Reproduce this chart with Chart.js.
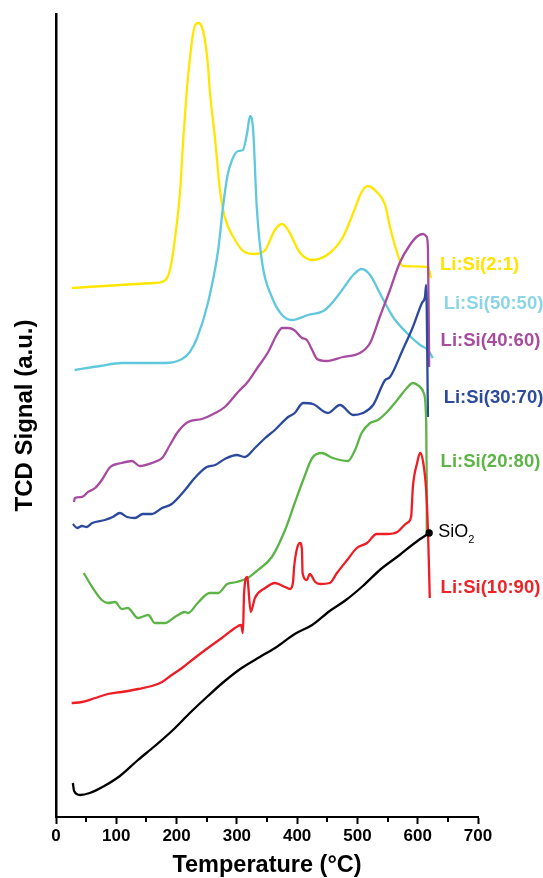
<!DOCTYPE html>
<html>
<head>
<meta charset="utf-8">
<script src="https://cdn.jsdelivr.net/npm/chart.js@4.4.0/dist/chart.umd.min.js"></script>
<style>
  html, body { margin: 0; padding: 0; background: #fff; }
  canvas { display: block; }
</style>
</head>
<body>
<canvas id="tpr" width="543" height="878"></canvas>
<script>
// Temperatura (°C) y señal TCD (u.a.)
const tempSiO2 = [28, 30, 40, 56, 80, 106, 136, 164, 194, 222, 252, 280, 308, 338, 366, 396, 425, 454, 481, 509, 539, 570, 595, 619];
const sigSiO2  = [34, 26, 22, 24, 31, 41, 57, 71, 87, 104, 121, 136, 149, 160, 170, 183, 192, 206, 217, 231, 248, 262, 274, 284];

const temp1090 = [26, 43, 65, 86, 109, 136, 159, 176, 192, 209, 230, 252, 275, 297, 307, 310, 312, 317, 318, 323, 330, 347, 363, 380, 388, 393, 395, 400, 405, 408, 409, 416, 421, 430, 438, 454, 466, 483, 499, 516, 532, 549, 566, 582, 589, 592, 599, 604, 609, 614, 617, 620];
const sig1090  = [114, 115, 119, 123, 125, 128, 131, 135, 142, 149, 159, 169, 179, 189, 192, 184, 224, 240, 237, 205, 219, 229, 234, 230, 228, 234, 250, 269, 274, 267, 244, 237, 243, 235, 233, 234, 244, 257, 269, 274, 283, 283, 285, 294, 300, 330, 354, 364, 355, 327, 287, 219];

const temp2080 = [46, 60, 76, 86, 98, 109, 119, 136, 153, 164, 181, 197, 214, 219, 235, 255, 269, 284, 300, 318, 335, 358, 380, 396, 410, 425, 441, 459, 484, 496, 507, 521, 534, 549, 566, 582, 592, 604, 610, 614, 615, 615];
const sig2080  = [244, 230, 217, 214, 215, 208, 209, 199, 202, 194, 194, 200, 205, 204, 214, 224, 224, 233, 235, 239, 247, 260, 287, 314, 337, 359, 364, 359, 356, 367, 384, 394, 397, 405, 417, 429, 434, 430, 424, 397, 337, 282];

const temp3070 = [28, 35, 43, 51, 60, 81, 94, 106, 118, 131, 144, 159, 176, 192, 214, 230, 250, 264, 280, 300, 313, 330, 347, 363, 385, 396, 410, 426, 451, 471, 493, 509, 526, 546, 554, 575, 592, 607, 612, 614, 617];
const sig3070  = [293, 289, 291, 290, 294, 297, 300, 304, 300, 299, 303, 303, 309, 313, 327, 339, 350, 352, 358, 362, 360, 369, 379, 387, 400, 404, 414, 413, 404, 412, 402, 404, 412, 437, 440, 467, 490, 514, 520, 532, 400];

const temp4060 = [30, 31, 43, 53, 65, 76, 90, 109, 126, 139, 159, 176, 189, 202, 219, 242, 264, 280, 302, 318, 335, 352, 366, 375, 385, 395, 408, 416, 425, 433, 449, 476, 504, 521, 537, 554, 570, 587, 600, 609, 615, 617, 619];
const sig4060  = [315, 319, 320, 325, 329, 337, 350, 354, 356, 351, 354, 359, 372, 385, 395, 398, 404, 410, 425, 435, 450, 465, 482, 489, 489, 487, 479, 477, 467, 458, 456, 460, 464, 474, 500, 527, 554, 572, 581, 583, 580, 567, 450];

const temp5050 = [31, 73, 109, 181, 209, 222, 234, 252, 269, 277, 284, 292, 302, 310, 317, 322, 327, 333, 342, 358, 375, 391, 418, 446, 471, 493, 507, 521, 537, 559, 582, 604, 617, 625];
const sig5050  = [447, 451, 454, 454, 458, 465, 479, 514, 567, 610, 640, 657, 666, 667, 684, 701, 687, 610, 554, 520, 502, 497, 502, 507, 524, 542, 548, 542, 524, 500, 484, 472, 467, 459];

const temp21 = [26, 164, 176, 189, 197, 206, 211, 217, 221, 227, 232, 237, 242, 247, 252, 255, 264, 272, 280, 297, 313, 330, 347, 363, 375, 385, 405, 426, 454, 476, 493, 507, 517, 532, 546, 554, 566, 575, 617, 622];
const sig21  = [529, 534, 535, 547, 577, 627, 677, 727, 752, 782, 793, 794, 790, 777, 752, 727, 677, 627, 600, 577, 565, 563, 567, 587, 593, 587, 564, 557, 564, 580, 604, 625, 631, 625, 612, 590, 564, 551, 550, 539];

// Nombres, colores y posición de las etiquetas (orden de dibujo)
const seriesNames = ['SiO2', 'Li:Si(10:90)', 'Li:Si(20:80)', 'Li:Si(30:70)', 'Li:Si(40:60)', 'Li:Si(50:50)', 'Li:Si(2:1)'];
const seriesTemps = [tempSiO2, temp1090, temp2080, temp3070, temp4060, temp5050, temp21];
const seriesSigs  = [sigSiO2, sig1090, sig2080, sig3070, sig4060, sig5050, sig21];
const lineColors  = ['#000000', '#ee1c24', '#5cb447', '#2b4a9e', '#a64b9f', '#5fc8dc', '#ffe600'];
const textColors  = ['#000000', '#ee2328', '#5db548', '#2e4b9b', '#a94c9f', '#8bd5e6', '#ffe400'];
const labelTemp   = [634, 638, 638, 643, 638, 643, 637];
const labelSig    = [285, 229, 355, 419, 476, 513, 552];

const xTickLabels = [0, 100, 200, 300, 400, 500, 600, 700];

const datasets = seriesNames.map(function (name, i) {
    return {
        label: name,
        data: seriesTemps[i].map(function (t, k) { return { x: t, y: seriesSigs[i][k] }; }),
        borderColor: lineColors[i],
        backgroundColor: lineColors[i],
        borderWidth: 2.3,
        cubicInterpolationMode: 'monotone',
        pointRadius: function (ctx) {
            // punto final solo en la curva de SiO2
            return (i === 0 && ctx.dataIndex === seriesTemps[0].length - 1) ? 2.5 : 0;
        },
        fill: false,
        clip: false
    };
});

const curveLabels = {
    id: 'curveLabels',
    afterDraw(chart) {
        const ctx = chart.ctx;
        const x = chart.scales.x;
        const y = chart.scales.y;
        ctx.save();

        // marcas menores del eje X
        ctx.strokeStyle = '#000';
        ctx.lineWidth = 2;
        for (let v = 50; v < 700; v += 100) {
            const px = Math.round(x.getPixelForValue(v));
            ctx.beginPath();
            ctx.moveTo(px, y.bottom);
            ctx.lineTo(px, y.bottom + 5);
            ctx.stroke();
        }

        ctx.textBaseline = 'middle';
        ctx.textAlign = 'left';
        seriesNames.forEach(function (name, i) {
            const px = x.getPixelForValue(labelTemp[i]);
            const py = y.getPixelForValue(labelSig[i]);
            ctx.fillStyle = textColors[i];
            if (name === 'SiO2') {
                ctx.font = '18px "Liberation Sans", Arial, sans-serif';
                ctx.fillText('SiO', px, py);
                const w = ctx.measureText('SiO').width;
                ctx.font = '11px "Liberation Sans", Arial, sans-serif';
                ctx.fillText('2', px + w, py + 8);
            } else {
                ctx.font = 'bold 18.5px "Liberation Sans", Arial, sans-serif';
                ctx.fillText(name, px, py);
            }
        });
        ctx.restore();
    }
};

new Chart(document.getElementById('tpr').getContext('2d'), {
    type: 'line',
    data: { datasets: datasets },
    options: {
        responsive: false,
        animation: false,
        devicePixelRatio: 1,
        layout: { padding: { top: 14, right: 65, left: 0, bottom: 0 } },
        plugins: {
            legend: { display: false },
            tooltip: { enabled: false }
        },
        scales: {
            x: {
                type: 'linear',
                min: 0,
                max: 700,
                afterFit: function (scale) { scale.height = 61; },
                afterBuildTicks: function (scale) {
                    scale.ticks = xTickLabels.map(function (v) { return { value: v }; });
                },
                ticks: {
                    autoSkip: false,
                    maxRotation: 0,
                    padding: 2,
                    color: '#000',
                    font: { family: '"Liberation Sans", Arial, sans-serif', size: 17, weight: 'bold' }
                },
                grid: {
                    drawOnChartArea: false,
                    drawTicks: true,
                    tickLength: 7,
                    tickWidth: 2,
                    tickColor: '#000'
                },
                border: { color: '#000', width: 2 },
                title: {
                    display: true,
                    text: 'Temperature (°C)',
                    color: '#000',
                    padding: { top: 0, bottom: 1 },
                    font: { family: '"Liberation Sans", Arial, sans-serif', size: 23.5, weight: 'bold', lineHeight: 1 }
                }
            },
            y: {
                type: 'linear',
                min: 0,
                max: 803,
                afterFit: function (scale) { scale.width = 56; },
                ticks: { display: false },
                grid: { display: false },
                border: { color: '#000', width: 2.5 },
                title: {
                    display: true,
                    text: 'TCD Signal (a.u.)',
                    color: '#000',
                    padding: { top: 13, bottom: 0 },
                    font: { family: '"Liberation Sans", Arial, sans-serif', size: 24, weight: 'bold', lineHeight: 1 }
                }
            }
        }
    },
    plugins: [curveLabels]
});
</script>
</body>
</html>
